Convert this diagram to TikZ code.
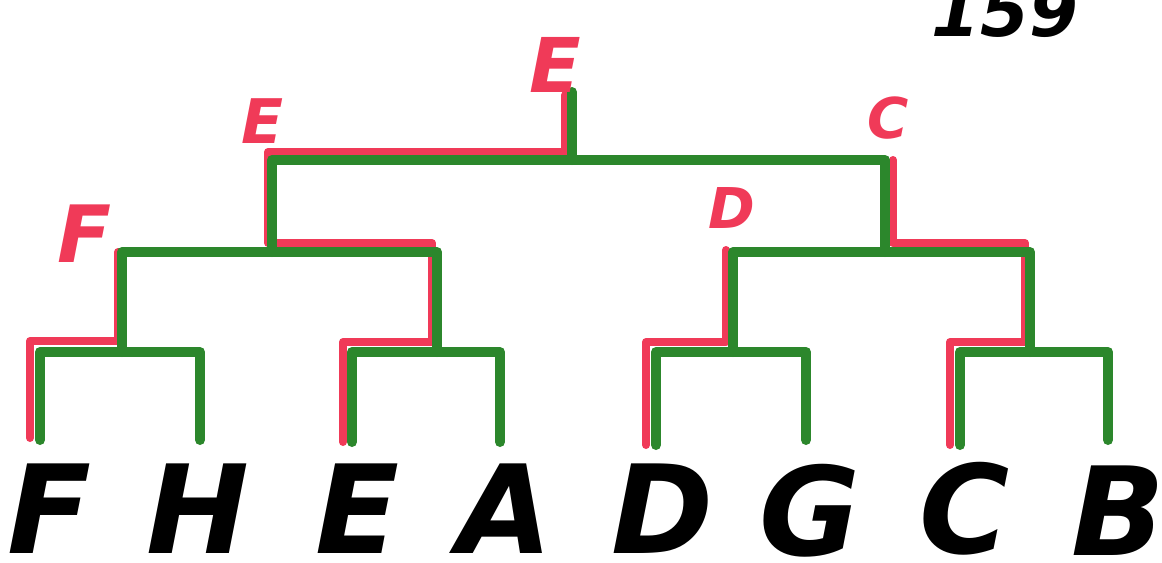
\documentclass[tikz,border=0pt]{standalone}
\usepackage{fontspec}
\setmainfont{DejaVu Sans}
\usetikzlibrary{calc}

\definecolor{treegreen}{RGB}{44,135,44}
\definecolor{winred}{RGB}{240,58,88}

\tikzset{
	tree/.style={treegreen, line width=0.2cm, line cap=round, line join=round},
	win/.style={winred, line width=0.16cm, line cap=round, line join=round},
	leaf/.style={font=\fontsize{70}{70}\selectfont\bfseries\itshape, anchor=base, inner sep=0pt},
	winlabel/.style={winred, font=\bfseries\itshape, anchor=base, inner sep=0pt}
}

\begin{document}
\begin{tikzpicture}[x=0.02cm, y=-0.02cm]
		\useasboundingbox (0,0) rectangle (1162,562);

		% leaves
		\coordinate (lF) at (40,440);
		\coordinate (lH) at (200,440);
		\coordinate (lE) at (352,442);
		\coordinate (lA) at (500,442);
		\coordinate (lD) at (656,445);
		\coordinate (lG) at (806,440);
		\coordinate (lC) at (960,445);
		\coordinate (lB) at (1108,440);

		% junctions
		\coordinate (jFH) at (122,352);
		\coordinate (jEA) at (437,352);
		\coordinate (jDG) at (733,352);
		\coordinate (jCB) at (1030,352);
		\coordinate (jL) at (272,252);
		\coordinate (jR) at (885,252);
		\coordinate (jT) at (572,160);
		\coordinate (top) at (572,92);

		% winners' paths
		\draw[win] ($(lF)+(-10,-2)$) |- ($(jFH)+(-4,-11)$) -- ($(jFH |- jL)+(-4,0)$);
		\draw[win] ($(lE)+(-9,0)$) |- ($(jEA)+(-5,-10)$) -- ($(jEA |- jL)+(-5,-9)$)
			-- ($(jL)+(-4,-9)$) -- ($(jL |- jT)+(-4,-8)$) -- ($(jT)+(-7,-8)$) -- ($(top)+(-7,3)$);
		\draw[win] ($(lD)+(-10,0)$) |- ($(jDG)+(-7,-10)$) -- ($(jDG |- jR)+(-7,-2)$);
		\draw[win] ($(lC)+(-10,0)$) |- ($(jCB)+(-5,-10)$) -- ($(jCB |- jR)+(-5,-9)$)
			-- ($(jR)+(8,-9)$) -- ($(jR |- jT)+(8,0)$);

		% bracket
		\draw[tree] (lF) |- (jFH) -| (lH);
		\draw[tree] (lE) |- (jEA) -| (lA);
		\draw[tree] (lD) |- (jDG) -| (lG);
		\draw[tree] (lC) |- (jCB) -| (lB);
		\draw[tree] (jFH) |- (jL) -| (jEA);
		\draw[tree] (jDG) |- (jR) -| (jCB);
		\draw[tree] (jL) |- (jT) -| (jR);
		\draw[tree] (jT) -- (top);

		% names
		\node[leaf] (nF) at (50,553) {F};
		\node[leaf] (nH) at (198,553) {H};
		\node[leaf] (nE) at (358,553) {E};
		\node[leaf] (nA) at (505,553) {A};
		\node[leaf] (nD) at (663,553) {D};
		\node[leaf] (nG) at (810,555) {G};
		\node[leaf] (nC) at (965,553) {C};
		\node[leaf] (nB) at (1118,555) {B};

		\node[winlabel, font=\fontsize{43}{43}\selectfont\bfseries\itshape] (wT) at (555,92) {E};
		\node[winlabel, font=\fontsize{35}{35}\selectfont\bfseries\itshape] (wL) at (262,143) {E};
		\node[winlabel, font=\fontsize{32}{32}\selectfont\bfseries\itshape] (wR) at (888,138) {C};
		\node[winlabel, font=\fontsize{45}{45}\selectfont\bfseries\itshape] (wF) at (85,262) {F};
		\node[winlabel, font=\fontsize{32}{32}\selectfont\bfseries\itshape] (wD) at (732,228) {D};

		\node[leaf, font=\fontsize{40}{40}\selectfont\bfseries\itshape] (page) at (1005,36) {159};
	\end{tikzpicture}
\end{document}
